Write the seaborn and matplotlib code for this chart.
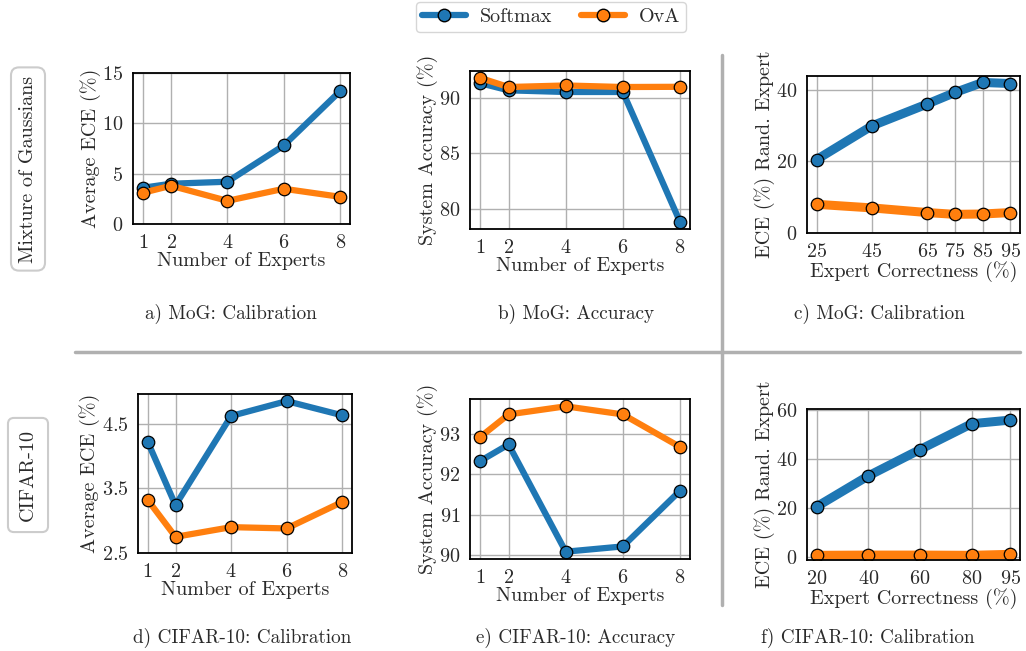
import pandas as pd
import matplotlib
matplotlib.use("Agg")
import matplotlib.pyplot as plt
import seaborn as sns

# data
n_experts = [1, 2, 4, 6, 8]

mog_ece_softmax = [3.6, 4.0, 4.2, 7.8, 13.2]
mog_ece_ova = [3.1, 3.8, 2.3, 3.5, 2.7]

mog_acc_softmax = [91.35, 90.7, 90.55, 90.55, 78.8]
mog_acc_ova = [91.83, 91.0, 91.14, 91.0, 91.02]

mog_correctness = [25, 45, 65, 75, 85, 95]
mog_rand_softmax = [20.5, 29.9, 36.0, 39.2, 42.0, 41.7]
mog_rand_ova = [8.0, 7.0, 5.7, 5.2, 5.3, 5.7]

cifar_ece_softmax = [4.22, 3.24, 4.62, 4.85, 4.63]
cifar_ece_ova = [3.32, 2.75, 2.90, 2.88, 3.29]

cifar_acc_softmax = [92.32, 92.73, 90.09, 90.22, 91.59]
cifar_acc_ova = [92.91, 93.47, 93.67, 93.47, 92.67]

cifar_correctness = [20, 40, 60, 80, 95]
cifar_rand_softmax = [20.6, 33.1, 43.8, 54.3, 55.8]
cifar_rand_ova = [0.8, 0.9, 0.9, 0.8, 1.2]

methods = ["Softmax", "OvA"]
palette = {"Softmax": "#1f77b4", "OvA": "#ff7f0e"}

FS = 14.5
TXT = "#2a2a2a"


def make_df(x, softmax, ova):
    return pd.DataFrame({
        "x": list(x) + list(x),
        "y": list(softmax) + list(ova),
        "method": ["Softmax"] * len(x) + ["OvA"] * len(x),
    })


def draw_panel(ax, x, softmax, ova, xlabel, ylabel, yticks, ylim, lw):
    df = make_df(x, softmax, ova)
    sns.lineplot(data=df, x="x", y="y", hue="method", hue_order=methods,
                 palette=palette, marker="o", markersize=9,
                 markeredgecolor="black", markeredgewidth=0.9,
                 linewidth=lw, legend=False, ax=ax)
    ax.set_xticks(x)
    ax.set_yticks(yticks)
    ax.set_ylim(*ylim)
    ax.set_xlabel(xlabel, labelpad=0)
    ax.set_ylabel(ylabel, labelpad=1)
    ax.grid(True, color="#b0b0b0", linewidth=1.0)
    ax.set_axisbelow(True)
    for s in ax.spines.values():
        s.set_color("black")
        s.set_linewidth(1.3)
    ax.tick_params(axis="both", direction="out", length=5, width=1.0,
                   colors="black", labelcolor=TXT, pad=2)


sns.set_style("whitegrid")
plt.rcParams["font.family"] = ["cmr10", "DejaVu Serif"]
plt.rcParams["mathtext.fontset"] = "cm"
plt.rcParams["axes.formatter.use_mathtext"] = True
plt.rcParams["font.size"] = FS
plt.rcParams["axes.labelsize"] = FS
plt.rcParams["xtick.labelsize"] = FS
plt.rcParams["ytick.labelsize"] = FS
plt.rcParams["axes.labelcolor"] = TXT

W, H = 1026, 651
fig = plt.figure(figsize=(W / 100, H / 100), dpi=100)


def px_axes(l, t, r, b):
    return fig.add_axes([l / W, 1 - b / H, (r - l) / W, (b - t) / H])


def px_text(x, y, s, size=FS, **kw):
    fig.text(x / W, 1 - y / H, s, ha="center", va="center",
             fontsize=size, color=TXT, **kw)


ax_a = px_axes(133, 73, 350, 224)
ax_b = px_axes(470, 71, 690, 229)
ax_c = px_axes(807, 76, 1020, 233)
ax_d = px_axes(138, 394, 352, 553)
ax_e = px_axes(470, 399, 690, 559)
ax_f = px_axes(807, 409, 1020, 560)

draw_panel(ax_a, n_experts, mog_ece_softmax, mog_ece_ova,
           "Number of Experts", "Average ECE (%)",
           [0, 5, 10, 15], (0, 15), 4.5)
draw_panel(ax_b, n_experts, mog_acc_softmax, mog_acc_ova,
           "Number of Experts", "System Accuracy (%)",
           [80, 85, 90], (78.15, 92.45), 4.5)
draw_panel(ax_c, mog_correctness, mog_rand_softmax, mog_rand_ova,
           "Expert Correctness (%)", "ECE (%) Rand. Expert",
           [0, 20, 40], (0, 43.8), 6.5)
draw_panel(ax_d, n_experts, cifar_ece_softmax, cifar_ece_ova,
           "Number of Experts", "Average ECE (%)",
           [2.5, 3.5, 4.5], (2.5, 4.96), 4.5)
draw_panel(ax_e, n_experts, cifar_acc_softmax, cifar_acc_ova,
           "Number of Experts", "System Accuracy (%)",
           [90, 91, 92, 93], (89.91, 93.85), 4.5)
draw_panel(ax_f, cifar_correctness, cifar_rand_softmax, cifar_rand_ova,
           "Expert Correctness (%)", "ECE (%) Rand. Expert",
           [0, 20, 40, 60], (-1.1, 60.3), 6.5)

# panel captions
CAP = 13.8
px_text(231, 314, "a) MoG: Calibration", size=CAP)
px_text(576, 314, "b) MoG: Accuracy", size=CAP)
px_text(879, 314, "c) MoG: Calibration", size=CAP)
px_text(242, 638, "d) CIFAR-10: Calibration", size=CAP)
px_text(576, 638, "e) CIFAR-10: Accuracy", size=CAP)
px_text(868, 638, "f) CIFAR-10: Calibration", size=CAP)

# separators between rows / columns
fig.add_artist(plt.Line2D([75 / W, 1020 / W], [1 - 352 / H, 1 - 352 / H],
                          color="#b0b0b0", linewidth=2.5))
fig.add_artist(plt.Line2D([722 / W, 722 / W], [1 - 55 / H, 1 - 605 / H],
                          color="#b0b0b0", linewidth=2.5))

# row labels
px_text(28, 169, "Mixture of Gaussians", rotation=90,
        bbox=dict(boxstyle="round,pad=0.4", fc="white", ec="#cccccc", lw=1.5))
px_text(28, 475, "CIFAR-10", rotation=90,
        bbox=dict(boxstyle="round,pad=0.55,rounding_size=0.3", fc="white",
                  ec="#cccccc", lw=1.5))

# shared legend
handles = [plt.Line2D([], [], color=palette[m], linewidth=4.5, marker="o",
                      markersize=9, markeredgecolor="black") for m in methods]
fig.legend(handles, methods, loc="center", bbox_to_anchor=(551 / W, 1 - 17 / H),
           ncol=2, frameon=True, fancybox=True, edgecolor="#cccccc",
           handlelength=2.2, handletextpad=0.7, columnspacing=1.4,
           fontsize=FS, labelcolor=TXT, borderpad=0.3)

fig.savefig("out.png", dpi=100)
